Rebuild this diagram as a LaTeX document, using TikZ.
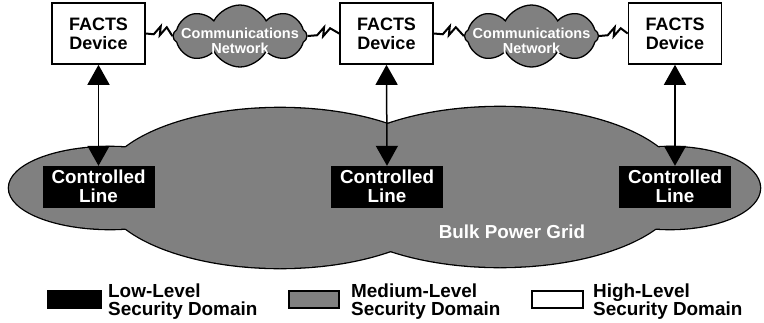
\documentclass[tikz,border=0pt]{standalone}
\usepackage{fontspec}
\setmainfont{Liberation Sans}
\usepackage{tikz}
\usetikzlibrary{positioning, arrows.meta, shapes, calc}
\usepackage{xcolor}
\definecolor{GridGray}{RGB}{128,128,128}

\begin{document}
\begin{tikzpicture}[x=1pt, y=-1pt, every node/.style={font=\bfseries},
    >={Triangle[length=20pt, width=22pt]}]
          \tikzstyle{facts} = [rectangle, draw=black, fill=white, line width=1.6pt,
            minimum width=93pt, minimum height=61pt, align=center, inner sep=0pt,
            font=\bfseries\fontsize{18}{19}\selectfont]
          \tikzstyle{linea} = [rectangle, draw=black, fill=black, text=white,
            minimum width=111pt, minimum height=41pt, align=center, inner sep=0pt,
            font=\bfseries\fontsize{18.8}{19}\selectfont]
          \tikzstyle{red} = [cloud, cloud puffs=8, cloud puff arc=125, aspect=2.2,
            draw=black, fill=GridGray, line width=1.3pt, minimum width=134pt, minimum height=62pt]
          \tikzstyle{redtxt} = [text=white, align=center, inner sep=0pt,
            font=\bfseries\fontsize{14.5}{15}\selectfont]
          \tikzstyle{enlace} = [line width=2pt, to path={-- ($(\tikztostart)!0.3!(\tikztotarget)$)
            -- ++(7,-8) -- ++(-1,9) -- ++(7,-8) -- (\tikztotarget)}]
          \tikzstyle{ctrl} = [line width=1.5pt, <->]
          \tikzstyle{legcaja} = [rectangle, draw=black, line width=1.5pt, minimum height=17pt]
          \tikzstyle{leyenda} = [anchor=north west, align=left, inner sep=0pt,
            font=\bfseries\fontsize{18.9}{18}\selectfont]

          \useasboundingbox (0,0) rectangle (764,322);

          % Red de potencia (contorno y relleno)
          \foreach \cx/\cy/\rx/\ry in {110/188/101/41, 280/188/179/80, 500/187/182/80, 670/188/90/41}
            \draw[line width=2.6pt] (\cx,\cy) ellipse [x radius=\rx pt, y radius=\ry pt];
          \foreach \cx/\cy/\rx/\ry in {110/188/101/41, 280/188/179/80, 500/187/182/80, 670/188/90/41}
            \fill[GridGray] (\cx,\cy) ellipse [x radius=\rx pt, y radius=\ry pt];
          \node[text=white, font=\bfseries\fontsize{18.8}{19}\selectfont] (grid) at (512,232) {Bulk Power Grid};

          % Dispositivos FACTS y lineas controladas
          \foreach \x [count=\i] in {98.5,386.5,675}
            \node[facts] (facts\i) at (\x,33.5) {FACTS\\Device};
          \foreach \x [count=\i] in {98.5,387,675}
            \node[linea] (linea\i) at (\x,186.5) {Controlled\\Line};
          \foreach \i in {1,2,3}
            \draw[ctrl] (facts\i.south) -- (linea\i.north);

          % Redes de comunicaciones
          \foreach \x [count=\i] in {240,531.5} {
            \node[red] (red\i) at (\x,36) {};
            \node[redtxt] (redtxt\i) at (\x,41) {Communications\\Network};
          }
          \draw[enlace] (facts1.east) to (red1.west);
          \draw[enlace] (red1.east) to (facts2.west);
          \draw[enlace] (facts2.east) to (red2.west);
          \draw[enlace] (red2.east) to (facts3.west);

          % Leyenda
          \node[legcaja, fill=black, minimum width=53pt] (caja1) at (74.5,299.5) {};
          \node[legcaja, fill=GridGray, minimum width=50pt] (caja2) at (314,299.5) {};
          \node[legcaja, fill=white, minimum width=51pt] (caja3) at (557.5,299.5) {};
          \node[leyenda] (ley1) at (108,283.5) {Low-Level\\Security Domain};
          \node[leyenda] (ley2) at (351,283.5) {Medium-Level\\Security Domain};
          \node[leyenda] (ley3) at (593,283.5) {High-Level\\Security Domain};
        \end{tikzpicture}
\end{document}
